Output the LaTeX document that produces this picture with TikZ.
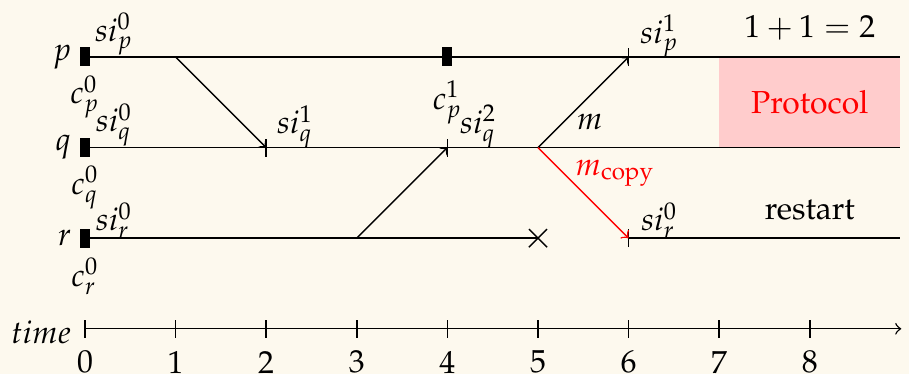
\documentclass[tikz,border=0pt]{standalone}
\usepackage[T1]{fontenc}
\usepackage{mathpazo}
\definecolor{bgcream}{RGB}{253,249,238}
\definecolor{protofill}{RGB}{255,204,204}
\begin{document}
\begin{tikzpicture}[
  x=1cm, y=1cm, line width=0.45pt, >=to,
  lbl/.style={inner sep=1pt},
  ckpt/.style={fill=black, inner sep=0pt, minimum width=0.11cm, minimum height=0.21cm},
  msg/.style={->},
  redmsg/.style={->, red},
  evtick/.style={line width=0.45pt}
]
\useasboundingbox[fill=bgcream] (-0.938,-0.499) rectangle (9.095,3.629);

% protocol region
\fill[protofill] (7,2) rectangle (9,3);
\node[lbl, text=red] (proto) at (8,2.5) {Protocol};

% event coordinates
\coordinate (p0) at (0,3); \coordinate (p1) at (1,3); \coordinate (p4) at (4,3);
\coordinate (p6) at (6,3); \coordinate (p9) at (9,3);
\coordinate (q0) at (0,2); \coordinate (q2) at (2,2); \coordinate (q4) at (4,2);
\coordinate (q5) at (5,2); \coordinate (q9) at (9,2);
\coordinate (r0) at (0,1); \coordinate (r3) at (3,1); \coordinate (r5) at (5,1);
\coordinate (r6) at (6,1); \coordinate (r9) at (9,1);
\coordinate (t0) at (0,0); \coordinate (tend) at (9.01,0);

% process lines
\draw (p0) -- (p9);
\draw (q0) -- (q9);
\draw (r0) -- (r5);
\draw (r6) -- (r9);

% crash cross
\draw ([shift={(-0.1,-0.1)}]r5) -- ([shift={(0.1,0.1)}]r5);
\draw ([shift={(-0.1,0.1)}]r5) -- ([shift={(0.1,-0.1)}]r5);

% event ticks
\foreach \c in {q2,q4,p6,r6}
  \draw[evtick] ([yshift=-0.1cm]\c) -- ([yshift=0.1cm]\c);

% checkpoints
\node[ckpt] (cp0) at (p0) {};
\node[ckpt] (cp1) at (p4) {};
\node[ckpt] (cq0) at (q0) {};
\node[ckpt] (cr0) at (r0) {};

% process names
\node[lbl, anchor=east] (np) at (-0.11,3) {$p$};
\node[lbl, anchor=east] (nq) at (-0.11,2) {$q$};
\node[lbl, anchor=east] (nr) at (-0.11,1) {$r$};

% checkpoint labels
\node[lbl] (lcp0) at (0,2.56) {$c_p^0$};
\node[lbl] (lcq0) at (0,1.56) {$c_q^0$};
\node[lbl] (lcr0) at (0,0.58) {$c_r^0$};
\node[lbl] (lcp1) at (4,2.50) {$c_p^1$};

% state labels
\node[lbl] (sp0) at (0.32,3.25) {$si_p^0$};
\node[lbl] (sq0) at (0.32,2.25) {$si_q^0$};
\node[lbl] (sr0) at (0.32,1.19) {$si_r^0$};
\node[lbl] (sq1) at (2.32,2.23) {$si_q^1$};
\node[lbl] (sq2) at (4.34,2.23) {$si_q^2$};
\node[lbl] (sp1) at (6.34,3.23) {$si_p^1$};
\node[lbl] (sr0b) at (6.34,1.19) {$si_r^0$};

% messages
\draw[msg] (p1) -- (q2);
\draw[msg] (r3) -- (q4);
\draw[msg] (q5) -- (p6);
\draw[redmsg] (q5) -- (r6);
\node[lbl] (lm) at (5.57,2.285) {$m$};
\node[lbl, text=red] (lmc) at (5.85,1.716) {$m_{\mathrm{copy}}$};

% annotations
\node[lbl] (eq) at (8,3.32) {$1+1=2$};
\node[lbl] (rst) at (8,1.31) {restart};

% time axis
\draw[->] (t0) -- (tend);
\node[lbl, anchor=east] (tlab) at (-0.11,-0.04) {$time$};
\foreach \i in {0,...,8} {
  \draw ([shift={(\i,-0.1)}]t0) -- ([shift={(\i,0.1)}]t0);
  \node[lbl] (n\i) at (\i,-0.37) {$\i$};
}
\end{tikzpicture}
\end{document}
